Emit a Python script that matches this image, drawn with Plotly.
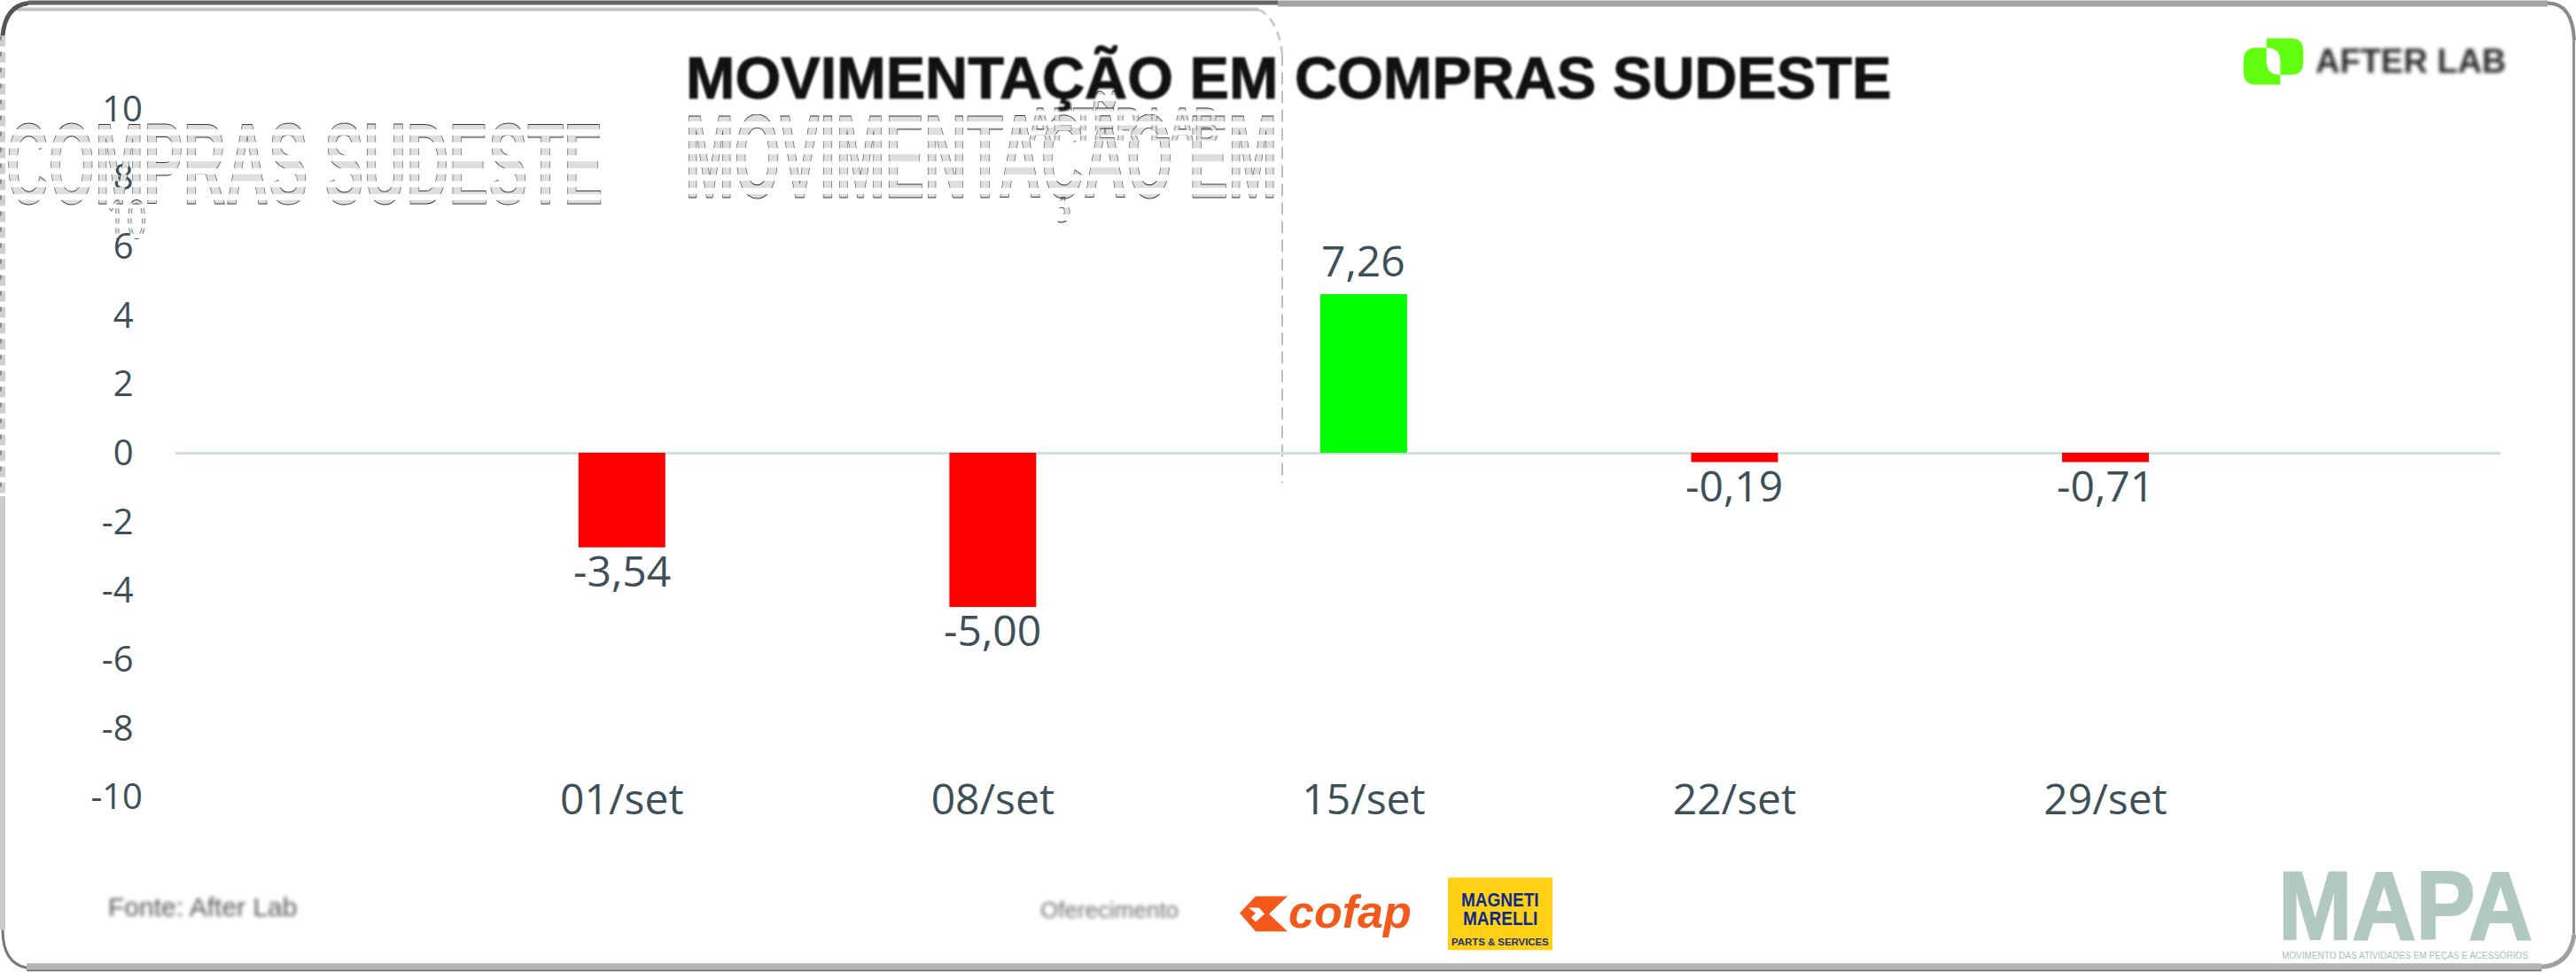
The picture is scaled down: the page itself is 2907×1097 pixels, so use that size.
import plotly.graph_objects as go

categories = ["01/set", "08/set", "15/set", "22/set", "29/set"]
bar_values = [-2.75, -4.48, 4.61, -0.27, -0.27]
bar_labels = ["-3,54", "-5,00", "7,26", "-0,19", "-0,71"]
y_ticks = [10, 8, 6, 4, 2, 0, -2, -4, -6, -8, -10]
y_tick_labels = ["10", "8", "6", "4", "2", "0", "-2", "-4", "-6", "-8", "-10"]
title_text = "MOVIMENTAÇÃO EM COMPRAS SUDESTE"

W, H = 2907, 1097
L, R, T, B = 198, 2822, 83.5, 938.5
INK = "#3d4f57"
RED, GREEN = "#FF0000", "#00FF00"


def X(p):
    return (p - L) / (R - L)


def Y(p):
    return (B - p) / (B - T)


def path(*cmds):
    out = []
    for c in cmds:
        if isinstance(c, str):
            out.append(c)
        else:
            out.append(f"{X(c[0]):.5f},{Y(c[1]):.5f}")
    return " ".join(out)


shapes = []


def poly(points, fill):
    cmds = ["M", points[0]]
    for p in points[1:]:
        cmds += ["L", p]
    cmds.append("Z")
    shapes.append(dict(type="path", xref="paper", yref="paper", path=path(*cmds),
                       fillcolor=fill, line=dict(width=0), layer="below"))


def rect(x0, y0, x1, y1, fill):
    shapes.append(dict(type="rect", xref="paper", yref="paper", x0=X(x0), x1=X(x1), y0=Y(y0), y1=Y(y1),
                       fillcolor=fill, line=dict(width=0), layer="below"))


def line(x0, y0, x1, y1, color, width, dash="solid"):
    shapes.append(dict(type="line", xref="paper", yref="paper", x0=X(x0), x1=X(x1), y0=Y(y0), y1=Y(y1),
                       line=dict(color=color, width=width, dash=dash), layer="below"))


def curve(cmds, color, width, dash="solid"):
    shapes.append(dict(type="path", xref="paper", yref="paper", path=path(*cmds),
                       line=dict(color=color, width=width, dash=dash), layer="below"))


# frame
rect(32, 0, 1442, 5, "#666666")
rect(14, 8, 1420, 12, "#c2c2c2")
rect(1442, 0, 2875, 7, "#a3a3a3")
curve(["M", (2875, 3), "Q", (2903, 3), (2905, 45)], "#8a8a8a", 4)
rect(2903, 45, 2906, 1055, "#8f8f8f")
rect(30, 1088, 2868, 1095, "#b5b5b5")
rect(30, 1095, 2868, 1097, "#777777")
curve(["M", (2868, 1092), "Q", (2900, 1090), (2905, 1055)], "#a0a0a0", 5)
curve(["M", (3, 1050), "Q", (3, 1088), (30, 1093)], "#777777", 3)
curve(["M", (32, 3), "Q", (6, 6), (3, 40)], "#555555", 5)
line(3, 40, 3, 560, "#cfcfcf", 6, "12px,6px")
line(1, 40, 1, 560, "#8c8c8c", 2, "5px,13px")
rect(0, 560, 6, 1050, "#cccccc")
line(1447, 60, 1447, 545, "#a8a8a8", 1.5, "14px,7px")
curve(["M", (1420, 10), "Q", (1442, 20), (1447, 60)], "#cdcdcd", 3, "10px,7px")

# AFTER LAB mark
shapes.append(dict(type="path", xref="paper", yref="paper", layer="below", fillcolor="#63FF10", line=dict(width=0),
                   path=path("M", (2557.7, 42.7), "L", (2585, 42.7), "Q", (2599.3, 42.7), (2599.3, 57), "L", (2599.3, 70),
                             "Q", (2599.3, 84), (2585, 84), "L", (2573.3, 84), "L", (2573.3, 95), "L", (2546, 95),
                             "Q", (2531.7, 95), (2531.7, 81), "L", (2531.7, 67), "Q", (2531.7, 53.3), (2546, 53.3),
                             "L", (2557.7, 53.3), "Z")))
shapes.append(dict(type="path", xref="paper", yref="paper", layer="below", fillcolor="#FFFFFF", line=dict(width=0),
                   path=path("M", (2557.7, 53.3), "Q", (2573.3, 53.3), (2573.3, 69), "L", (2573.3, 84),
                             "Q", (2557.7, 84), (2557.7, 69), "Z")))

# cofap mark
ORANGE = "#F4581B"
poly([(1399, 1031), (1417, 1012), (1453, 1012), (1432, 1032), (1453, 1052), (1417, 1052)], ORANGE)
poly([(1409, 1025), (1421, 1025), (1427, 1032), (1417, 1041), (1412, 1036), (1417, 1031)], "#FFFFFF")

# Magneti Marelli plate
rect(1634, 991, 1752, 1073, "#FFD014")


def ann(text, x, y, size, color, family="Liberation Sans", bold=False, italic=False, **kw):
    d = dict(text=text, xref="paper", yref="paper", x=X(x), y=Y(y), xanchor="center", yanchor="middle",
             showarrow=False,
             font=dict(family=family, size=size, color=color, weight=700 if bold else 400,
                       style="italic" if italic else "normal", **kw))
    return d


annotations = [
    ann("COMPRAS SUDESTE", 343, 185, 66.6, "#c4c4c4", bold=True),      # 0 ghost
    ann("MOVIMENTAÇÃO EM", 1107, 177, 66.6, "#c4c4c4", bold=True),     # 1 ghost
    ann("AFTER LAB", 1267, 142, 38, "#b8b8b8", bold=True),             # 2 ghost
    ann("10", 143, 245, 40, "#c4c4c4", family="Open Sans"),            # 3 ghost
    ann(title_text, 1454, 88, 66.6, "#111111", bold=True),             # 4
    ann("AFTER LAB", 2720, 68, 38, "#2a2a2a", bold=True),              # 5
    ann("Fonte: After Lab", 228, 1024, 30, "#555555"),                 # 6
    ann("Oferecimento", 1252, 1028, 26, "#6f6f6f"),                    # 7
    ann("cofap", 1523, 1030, 52, ORANGE, bold=True, italic=True),      # 8
    ann("MAGNETI", 1693, 1016, 19, "#0B2A8C", bold=True),              # 9
    ann("MARELLI", 1693, 1037, 19, "#0B2A8C", bold=True),              # 10
    ann("PARTS &amp; SERVICES", 1693, 1064, 11.4, "#1A2F7A", bold=True),   # 11
    ann("MAPA", 2714, 1023, 100, "#B2C9C3", bold=True),                # 12
    ann("MOVIMENTO DAS ATIVIDADES EM PEÇAS E ACESSÓRIOS", 2714, 1079, 10, "#A9BEB9"),  # 13
]

# value labels, placed from the bar values on the data axes
for cat, val, lab in zip(categories, bar_values, bar_labels):
    annotations.append(dict(text=lab, x=cat, y=val, xref="x", yref="y", xanchor="center", yanchor="middle",
                            showarrow=False, yshift=39 if val > 0 else -26,
                            font=dict(family="Open Sans", size=48, color=INK)))

# single digits keep a trailing space so they sit as in the source
shown_ticks = [t if len(t.lstrip("-")) > 1 else t + "\u00a0" for t in y_tick_labels]
colors = [GREEN if v > 0 else RED for v in bar_values]

fig = go.Figure(go.Bar(
    x=categories, y=bar_values, marker=dict(color=colors, line=dict(width=0)), hoverinfo="skip",
))
fig.update_layout(
    width=W, height=H, margin=dict(l=L, r=W - R, t=T, b=H - B, autoexpand=False),
    paper_bgcolor="#FFFFFF", plot_bgcolor="rgba(0,0,0,0)", showlegend=False, bargap=0.766,
    shapes=shapes, annotations=annotations,
    xaxis=dict(type="category", range=[-1.2037, 5.0656], showgrid=False, showline=False, zeroline=False,
               anchor="free", position=(B - 870) / (B - T), ticks="", automargin=False,
               tickfont=dict(family="Open Sans", size=48, color=INK)),
    yaxis=dict(range=[-11, 11], tickvals=y_ticks, ticktext=shown_ticks, showgrid=False, showline=False,
               zeroline=True, zerolinecolor="#D3DFDC", zerolinewidth=3, automargin=False,
               ticks="outside", ticklen=28, tickcolor="rgba(0,0,0,0)",
               tickfont=dict(family="Open Sans", size=40, color=INK)),
)

post = """
document.body.style.margin = '0';
var q = function(i){ return document.querySelector('.annotation[data-index="'+i+'"] text'); };
var first = q(0), svg = first.ownerSVGElement, ns = 'http://www.w3.org/2000/svg';
var defs = document.createElementNS(ns,'defs');
defs.innerHTML = '<pattern id="ghostfill" patternUnits="userSpaceOnUse" width="8" height="7.5">'
  + '<rect width="8" height="4" fill="#dedede"/></pattern>'
  + '<pattern id="ghostedge" patternUnits="userSpaceOnUse" width="8" height="7.5">'
  + '<rect width="8" height="4" fill="#3c3c3c"/></pattern>';
svg.appendChild(defs);
var stretch = {0:1.95, 1:2.0, 2:1.5, 3:1.5, 9:1.2, 10:1.2, 12:1.1};
Object.keys(stretch).forEach(function(i){
  var t = q(i);
  t.style.transformBox = 'fill-box';
  t.style.transformOrigin = 'center';
  t.style.transform = 'scaleY('+stretch[i]+')';
  if (i < 4) {
    t.style.setProperty('fill', 'url(#ghostfill)');
    t.style.setProperty('stroke', 'url(#ghostedge)');
    t.style.setProperty('stroke-width', '0.5px');
  }
});
var blur = {4:1.3, 5:2.2, 6:2.2, 7:2.2};
Object.keys(blur).forEach(function(i){ q(i).style.filter = 'blur('+blur[i]+'px)'; });
var m = q(12); m.style.setProperty('stroke', '#B2C9C3'); m.style.setProperty('stroke-width', '2px');
var ti = q(4); ti.style.setProperty('stroke', '#111111'); ti.style.setProperty('stroke-width', '1px');
"""
fig.write_html("out.html", post_script=post, config={"displayModeBar": False})
